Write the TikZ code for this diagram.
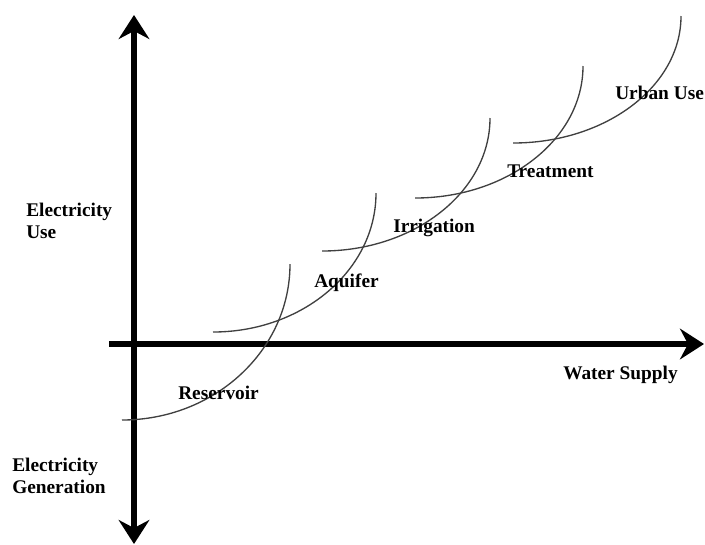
\documentclass[tikz,border=0pt]{standalone}
\usepackage{fontspec}
\setmainfont{Liberation Serif}
\usetikzlibrary{arrows.meta}

\begin{document}
\begin{tikzpicture}[x=0.75pt,y=-0.75pt,
  >={Stealth[length=18pt,width=23pt,inset=6pt]},
  axis/.style={line width=4pt},
  stage/.style={line width=1pt,black!75},
  lbl/.style={font=\bfseries\fontsize{14.5}{16.5}\selectfont,inner sep=0pt}]

\useasboundingbox (0,0) rectangle (705,544);

% Axes
\coordinate (west) at (109,344);
\coordinate (east) at (704,344);
\coordinate (south) at (134,544);
\coordinate (north) at (134,15);
\draw[axis,->] (west) -- (east);
\draw[axis,<->] (south) -- (north);

% Supply curves
\foreach \x/\y/\a/\b in {122/420/168/156, 213/332/163/139, 322/251/168/133,
                         415/198/168/132, 513/143/168/127}
  \draw[stage] (\x,\y) arc[start angle=90,end angle=0,x radius=\a,y radius=\b];

% Labels
\node[lbl,anchor=north west,align=left] (use) at (26,203) {Electricity\\Use};
\node[lbl,anchor=north west,align=left] (gen) at (12,458) {Electricity\\Generation};
\node[lbl,anchor=base west] (supply) at (563,379) {Water Supply};
\node[lbl,anchor=base west] (reservoir) at (178,399) {Reservoir};
\node[lbl,anchor=base west] (aquifer) at (314,287) {Aquifer};
\node[lbl,anchor=base west] (irrigation) at (393,232) {Irrigation};
\node[lbl,anchor=base west] (treatment) at (507,177) {Treatment};
\node[lbl,anchor=base west] (urban) at (615,99) {Urban Use};

\end{tikzpicture}
\end{document}
